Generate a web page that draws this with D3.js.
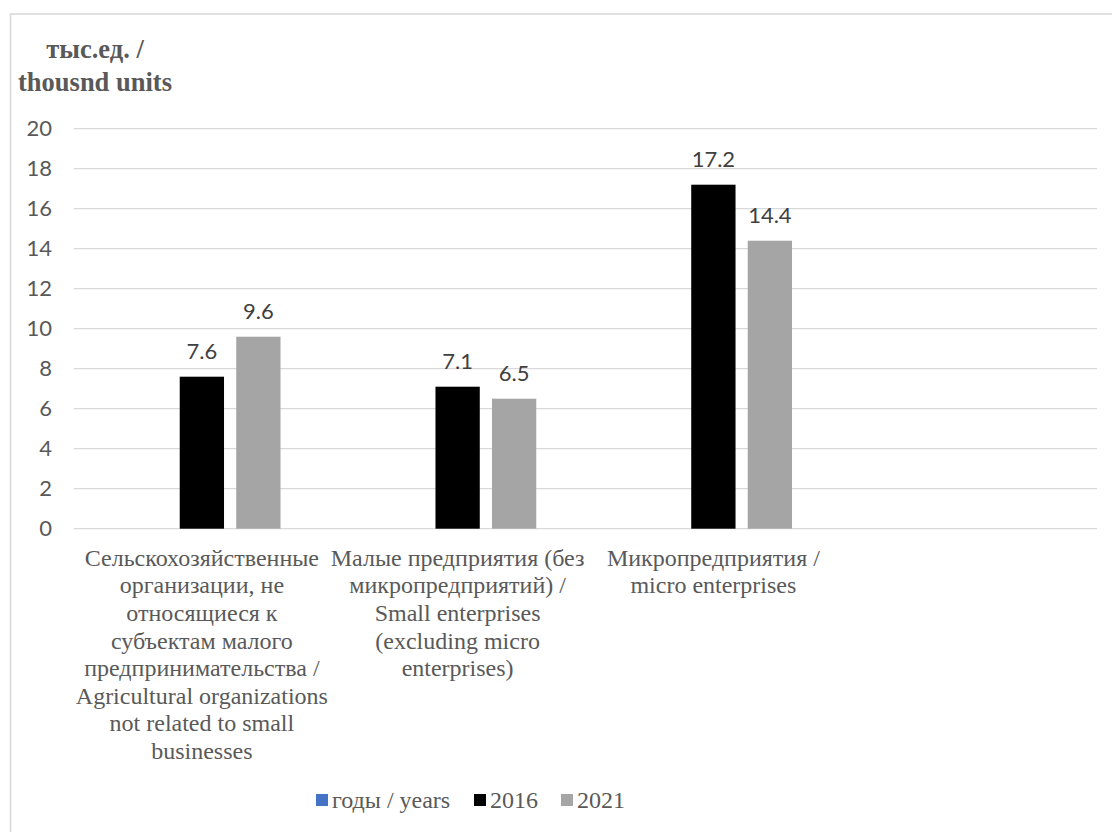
<!DOCTYPE html>
<html>
<head>
<meta charset="utf-8">
<script src="https://cdn.jsdelivr.net/npm/d3@7"></script>
<style>
  html, body { margin: 0; padding: 0; background: #fff; }
  svg { display: block; }
  .serif { font-family: "Liberation Serif", "Times New Roman", "DejaVu Serif", serif; }
  .sans { font-family: Lato, "Open Sans", sans-serif; }
</style>
</head>
<body>
<svg id="chart" width="1112" height="832"></svg>
<script>
// Category labels (line breaks marked with "|"); the fourth slot is empty
const categories = [
  "Сельскохозяйственные|организации, не|относящиеся к|субъектам малого|предпринимательства /|Agricultural organizations|not related to small|businesses",
  "Малые предприятия (без|микропредприятий) /|Small enterprises|(excluding micro|enterprises)",
  "Микропредприятия /|micro enterprises",
  ""
];
const seriesNames = ["годы / years", "2016", "2021"];
const seriesColors = ["#4472C4", "#000000", "#A5A5A5"];
// values per series, one per category (null = no bar)
const valuesYears = [null, null, null, null];
const values2016 = [7.6, 7.1, 17.2, null];
const values2021 = [9.6, 6.5, 14.4, null];
const yTicks = [0, 2, 4, 6, 8, 10, 12, 14, 16, 18, 20];
const titleLines = ["тыс.ед. /", "thousnd units"];

const seriesValues = [valuesYears, values2016, values2021];

const svg = d3.select("#chart");
const W = 1112, H = 832;
const plot = { left: 74, right: 1097, top: 128.7, bottom: 528.7 };

// outer chart frame
svg.append("rect")
  .attr("x", 10.5).attr("y", 14)
  .attr("width", W + 20).attr("height", H + 20)
  .attr("fill", "#fff")
  .attr("stroke", "#D9D9D9").attr("stroke-width", 1.6);

const y = d3.scaleLinear().domain([0, 20]).range([plot.bottom, plot.top]);
const x0 = d3.scaleBand()
  .domain(d3.range(categories.length))
  .range([plot.left, plot.right])
  .paddingInner(0.385)
  .paddingOuter(0.1925);
const x1 = d3.scaleBand()
  .domain(d3.range(seriesNames.length))
  .range([0, x0.bandwidth()])
  .paddingInner(0.216);

// gridlines
svg.append("g")
  .selectAll("line")
  .data(yTicks)
  .join("line")
  .attr("x1", plot.left).attr("x2", plot.right)
  .attr("y1", d => y(d)).attr("y2", d => y(d))
  .attr("stroke", "#D9D9D9").attr("stroke-width", 1.3);

// y tick labels
const yAxis = d3.axisLeft(y).tickValues(yTicks).tickSize(0).tickPadding(0).tickFormat(d3.format("d"));
const gy = svg.append("g").attr("transform", "translate(52,0)").call(yAxis);
gy.select(".domain").remove();
gy.attr("font-family", null).attr("font-size", null);
gy.selectAll("text")
  .attr("class", "sans")
  .style("font-size", "22px")
  .attr("fill", "#595959");

// bars
const barData = [];
seriesValues.forEach((vals, s) => {
  vals.forEach((v, c) => { if (v != null) barData.push({ s, c, v }); });
});
svg.append("g")
  .selectAll("rect")
  .data(barData)
  .join("rect")
  .attr("x", d => x0(d.c) + x1(d.s))
  .attr("width", x1.bandwidth())
  .attr("y", d => y(d.v))
  .attr("height", d => y(0) - y(d.v))
  .attr("fill", d => seriesColors[d.s]);

// data labels
svg.append("g")
  .selectAll("text")
  .data(barData)
  .join("text")
  .attr("class", "sans")
  .attr("x", d => x0(d.c) + x1(d.s) + x1.bandwidth() / 2)
  .attr("y", d => y(d.v) - 18)
  .attr("text-anchor", "middle")
  .style("font-size", "22px")
  .attr("fill", "#404040")
  .text(d => d.v.toFixed(1));

// category labels
const catG = svg.append("g");
categories.forEach((label, c) => {
  if (!label) return;
  const cx = x0(c) + x0.bandwidth() / 2;
  label.split("|").forEach((line, i) => {
    catG.append("text")
      .attr("class", "serif")
      .attr("text-anchor", "middle")
      .style("font-size", "24px")
      .attr("fill", "#595959")
      .attr("x", cx).attr("y", 565.7 + i * 27.6)
      .text(line);
  });
});

// axis title
titleLines.forEach((line, i) => {
  svg.append("text")
    .attr("class", "serif")
    .attr("text-anchor", "middle")
    .style("font-size", "26.5px").style("font-weight", "bold")
    .attr("fill", "#595959")
    .attr("x", 95).attr("y", 58 + i * 32.5)
    .text(line);
});

// legend
const legendX = [316, 474, 561];
const lg = svg.append("g");
seriesNames.forEach((name, i) => {
  lg.append("rect")
    .attr("x", legendX[i]).attr("y", 794)
    .attr("width", 12).attr("height", 12)
    .attr("fill", seriesColors[i]);
  lg.append("text")
    .attr("class", "serif")
    .attr("x", legendX[i] + 16).attr("y", 808)
    .style("font-size", "24px")
    .attr("fill", "#595959")
    .text(name);
});
</script>
</body>
</html>
